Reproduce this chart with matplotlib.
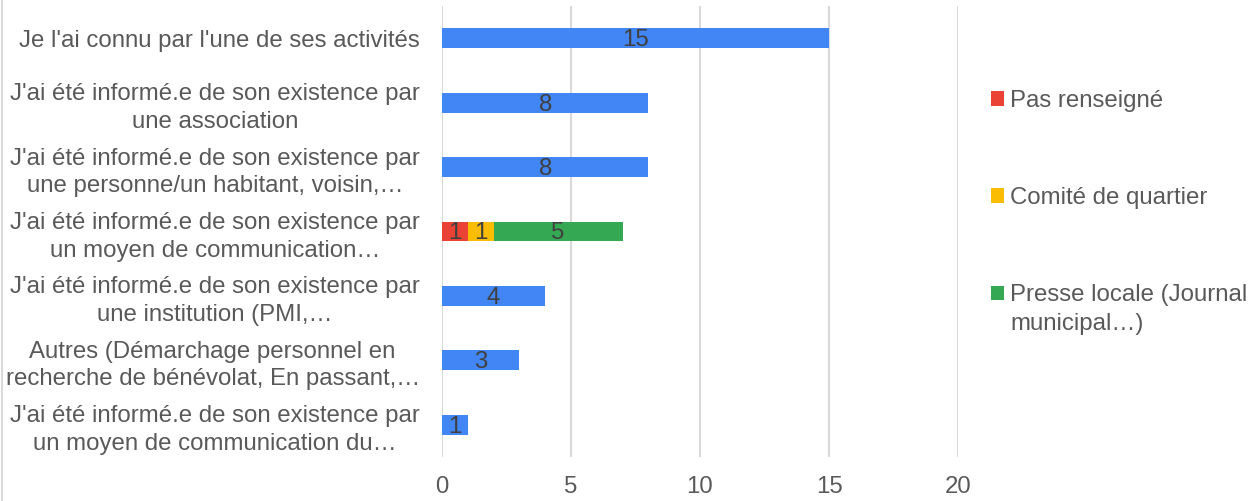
import numpy as np
import matplotlib.pyplot as plt
from matplotlib.lines import Line2D

plt.rcParams['font.family'] = ['Liberation Sans', 'DejaVu Sans']

categories = [
    "Je l'ai connu par l'une de ses activités",
    "J'ai été informé.e de son existence par\nune association",
    "J'ai été informé.e de son existence par\nune personne/un habitant, voisin,…",
    "J'ai été informé.e de son existence par\nun moyen de communication…",
    "J'ai été informé.e de son existence par\nune institution (PMI,…",
    "Autres (Démarchage personnel en\nrecherche de bénévolat, En passant,…",
    "J'ai été informé.e de son existence par\nun moyen de communication du…",
]
total = [15, 8, 8, 0, 4, 3, 1]
pas_renseigne = [0, 0, 0, 1, 0, 0, 0]
comite = [0, 0, 0, 1, 0, 0, 0]
presse = [0, 0, 0, 5, 0, 0, 0]

series = [
    (None, total, '#4285F4'),
    ("Pas renseigné", pas_renseigne, '#EA4335'),
    ("Comité de quartier", comite, '#FBBC04'),
    ("Presse locale (Journal", presse, '#34A853'),
]

FS = 17.3

fig = plt.figure(figsize=(12.6, 5.01), dpi=100)
ax = fig.add_axes([442 / 1260, 1 - 457 / 501, 516 / 1260, 451 / 501])

y = np.arange(len(categories))
left = np.zeros(len(categories))
handles = []
for name, vals, color in series:
    vals = np.array(vals, dtype=float)
    bars = ax.barh(y, vals, left=left, height=0.31, color=color, zorder=3)
    for b, v in zip(bars, vals):
        if v > 0:
            ax.text(b.get_x() + b.get_width() / 2, b.get_y() + b.get_height() / 2 + 0.03,
                    f"{v:g}", ha='center', va='center', fontsize=FS,
                    color='#404040', zorder=4)
    if name is not None:
        handles.append((bars, name))
    left += vals

ax.set_xlim(0, 20)
ax.set_ylim(len(categories) - 0.5, -0.5)
ax.set_xticks([0, 5, 10, 15, 20])
ax.set_yticks(y)
ax.set_yticklabels(categories, fontsize=FS, color='#595959',
                   multialignment='center', linespacing=1.33)
ax.tick_params(axis='x', labelsize=FS, labelcolor='#595959', length=0, pad=14)
ax.tick_params(axis='y', length=0, pad=16)
ax.grid(axis='x', color='#D9D9D9', linewidth=1.5, zorder=0)
for s in ax.spines.values():
    s.set_visible(False)

leg = fig.legend([h for h, _ in handles], [n for _, n in handles],
                 loc='upper left', bbox_to_anchor=(991 / 1260, 1 - 90 / 501),
                 frameon=False, fontsize=FS, labelcolor='#595959',
                 handlelength=0.55, handleheight=0.55, handletextpad=0.25,
                 labelspacing=3.13, borderpad=0, borderaxespad=0)

fig.canvas.draw()
r = fig.canvas.get_renderer()
bb = leg.texts[2].get_window_extent(r)
fig.text(bb.x0 / 1260, (bb.y0 - 29) / 501, "municipal…)", fontsize=FS,
         color='#595959', ha='left', va='bottom')

fig.add_artist(Line2D([2 / 1260, 2 / 1260], [0, 1], transform=fig.transFigure,
                      color='#D9D9D9', linewidth=1.5))

fig.savefig('out.png', dpi=100)
